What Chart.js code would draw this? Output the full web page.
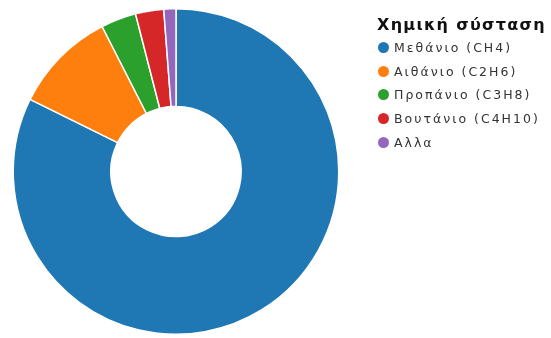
<!DOCTYPE html>
<html>
<head>
<meta charset="utf-8">
<script src="https://cdn.jsdelivr.net/npm/chart.js@4"></script>
<style>
  html, body { margin: 0; padding: 0; background: #fff; }
  #wrap { position: relative; width: 551px; height: 338px; }
  #legend { position: absolute; left: 377px; top: 14px; font-family: "DejaVu Sans", sans-serif; color: #222; }
  #legend .title { font-weight: bold; font-size: 16px; letter-spacing: 1.3px; height: 22px; line-height: 22px; color: #111; }
  #legend .item { font-size: 12.5px; letter-spacing: 2px; height: 23.7px; line-height: 23.7px; white-space: nowrap; color: #333; }
  #legend .dot { display: inline-block; width: 11px; height: 11px; border-radius: 50%; margin: 0 5px 0 1px; vertical-align: -1px; }
</style>
</head>
<body>
<div id="wrap">
  <canvas id="gasChart" width="551" height="338"></canvas>
  <div id="legend"></div>
</div>
<script>
const legendTitle = "Χημική σύσταση";
const gasLabels = ["Μεθάνιο (CH4)", "Αιθάνιο (C2H6)", "Προπάνιο (C3H8)", "Βουτάνιο (C4H10)", "Αλλα"];
const gasShares = [82.3, 10.2, 3.5, 2.8, 1.2];
const gasColors = ["#1f77b4", "#ff7f0e", "#2ca02c", "#d62728", "#9467bd"];

const legendBox = document.getElementById("legend");
let legendHtml = '<div class="title">' + legendTitle + '</div>';
gasLabels.forEach(function (label, i) {
  legendHtml += '<div class="item"><span class="dot" style="background:' + gasColors[i] + '"></span>' + label + '</div>';
});
legendBox.innerHTML = legendHtml;

const gasChartContext = document.getElementById("gasChart").getContext("2d");

new Chart(gasChartContext, {
  type: "doughnut",
  data: {
    labels: gasLabels,
    datasets: [
      {
        data: gasShares,
        backgroundColor: gasColors,
        borderColor: "#ffffff",
        borderWidth: 1.5
      }
    ]
  },
  options: {
    responsive: false,
    animation: false,
    cutout: "40%",
    layout: {
      padding: { left: 12, right: 211, top: 8, bottom: 3 }
    },
    plugins: {
      legend: { display: false },
      tooltip: { enabled: false }
    }
  }
});
</script>
</body>
</html>
